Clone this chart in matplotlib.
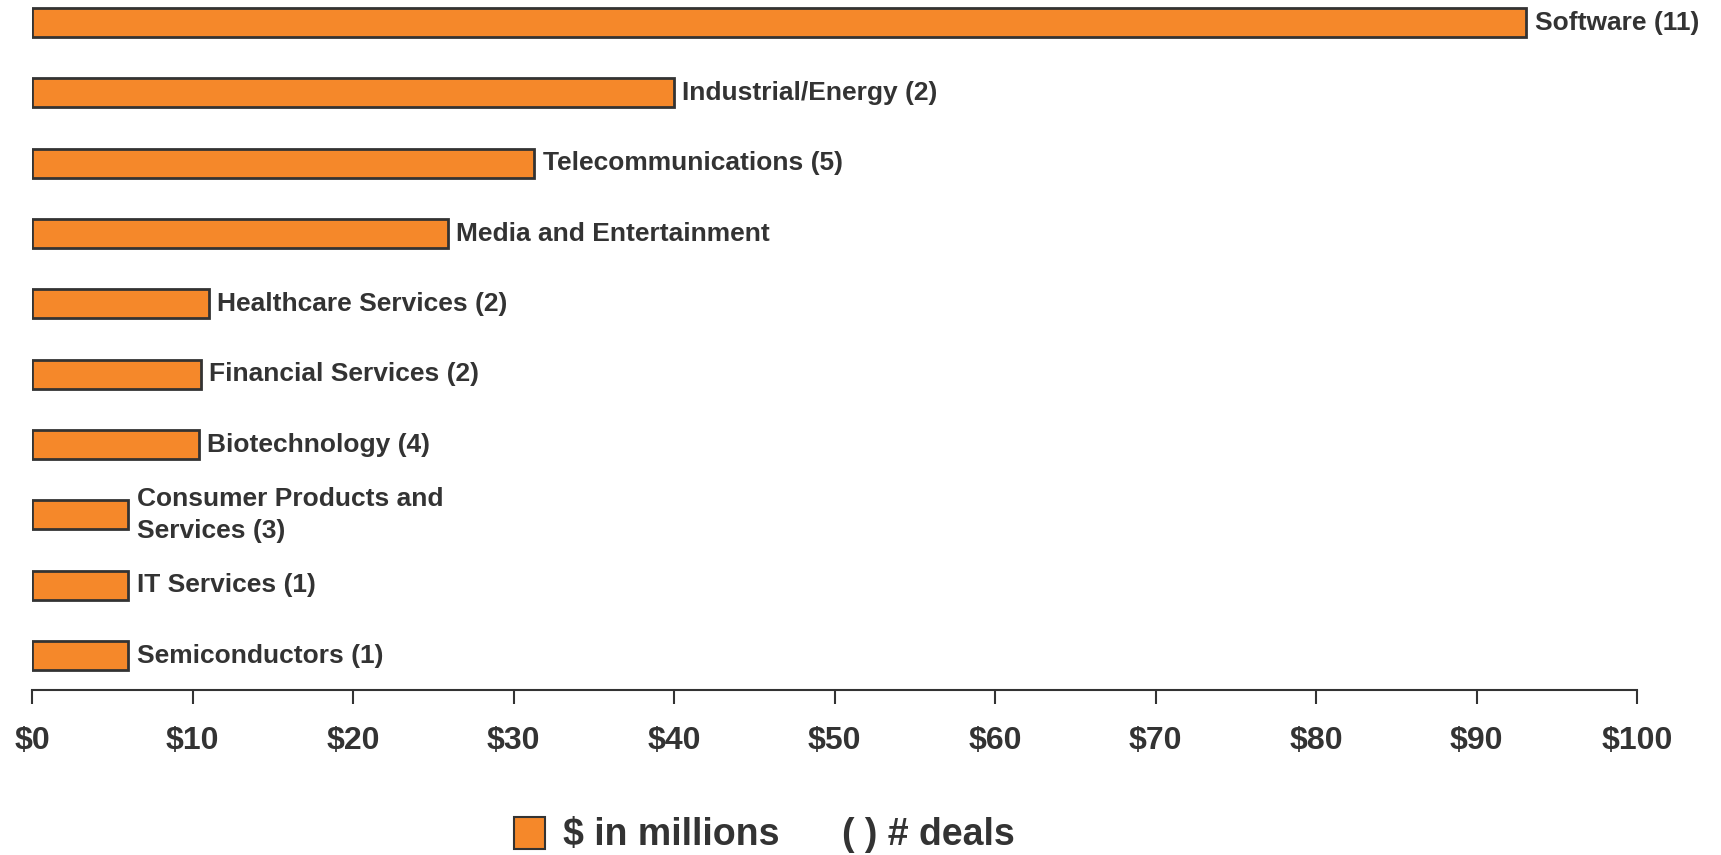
import matplotlib.pyplot as plt
from matplotlib.patches import Rectangle

categories = [
    "Semiconductors (1)",
    "IT Services (1)",
    "Consumer Products and\nServices (3)",
    "Biotechnology (4)",
    "Financial Services (2)",
    "Healthcare Services (2)",
    "Media and Entertainment",
    "Telecommunications (5)",
    "Industrial/Energy (2)",
    "Software (11)",
]
values = [6.0, 6.0, 6.0, 10.4, 10.5, 11.0, 25.9, 31.3, 40.0, 93.1]
tick_values = list(range(0, 101, 10))
tick_labels = [f"${v}" for v in tick_values]

ORANGE = "#F5882A"
DARK = "#333333"

plt.rcParams["font.family"] = ["Liberation Sans", "DejaVu Sans"]
plt.rcParams["font.weight"] = "bold"

fig = plt.figure(figsize=(17.21, 8.55), dpi=100)
ax = fig.add_axes([32 / 1721, 165 / 855, 1605 / 1721, 690 / 855])

ypos = list(range(len(categories)))
ax.barh(ypos, values, height=0.41, color=ORANGE, edgecolor=DARK, linewidth=2)

for y, v, label in zip(ypos, values, categories):
    ax.annotate(label, xy=(v, y), xytext=(6, 0), textcoords="offset points",
                va="center", ha="left", fontsize=19, fontweight="bold",
                color=DARK, linespacing=1.45)

ax.set_xlim(0, 100)
ax.set_ylim(-0.49, 9.32)
ax.set_xticks(tick_values)
ax.set_xticklabels(tick_labels, fontsize=23, fontweight="bold", color=DARK)
ax.set_yticks([])
ax.tick_params(axis="x", direction="out", length=10, width=1.5, color=DARK, pad=16)
for side in ("left", "top", "right"):
    ax.spines[side].set_visible(False)
ax.spines["bottom"].set_color(DARK)
ax.spines["bottom"].set_linewidth(1.5)

# legend
fig.patches.append(Rectangle((514 / 1721, 6 / 855), 31 / 1721, 32 / 855,
                             transform=fig.transFigure, facecolor=ORANGE,
                             edgecolor=DARK, linewidth=1.5))
fig.text(563 / 1721, 20 / 855, "$ in millions", fontsize=27, fontweight="bold",
         color=DARK, va="center", ha="left")
fig.text(842 / 1721, 20 / 855, "( ) # deals", fontsize=27, fontweight="bold",
         color=DARK, va="center", ha="left")

fig.savefig("out.png", dpi=100)
